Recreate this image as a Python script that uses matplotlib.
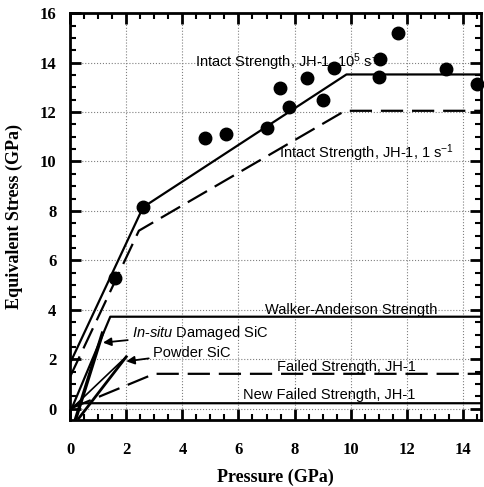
import matplotlib
matplotlib.use('Agg')
import matplotlib.pyplot as plt
from matplotlib.ticker import MultipleLocator

plt.rcParams['mathtext.fontset'] = 'custom'
plt.rcParams['mathtext.rm'] = 'Liberation Sans'
plt.rcParams['mathtext.it'] = 'Liberation Sans:italic'

#%% dados lidos do grafico
# pontos experimentais
p_exp = [1.6, 2.6, 4.8, 5.56, 7.0, 7.47, 7.8, 8.45, 9.0, 9.4, 11.0, 11.04, 11.69, 13.4, 14.5]
s_exp = [5.3, 8.16, 10.95, 11.1, 11.35, 12.97, 12.2, 13.37, 12.5, 13.8, 13.4, 14.14, 15.19, 13.74, 13.13]

# curvas de resistencia
p_intact_fast = [0, 2.6, 9.85, 14.7]
s_intact_fast = [1.85, 8.15, 13.52, 13.52]
p_intact_slow = [0, 2.45, 9.8, 14.7]
s_intact_slow = [1.3, 7.2, 12.05, 12.05]
p_walker = [0.05, 1.43, 14.7]
s_walker = [0.0, 3.72, 3.72]
p_failed = [0.0, 3.0, 14.7]
s_failed = [0.0, 1.41, 1.41]
p_newfailed = [0.0, 0.3, 14.7]
s_newfailed = [0.0, 0.22, 0.22]
p_insitu = [0.2, 1.15]
s_insitu = [-0.4, 3.05]
p_powder = [0.3, 2.0]
s_powder = [-0.4, 2.1]
p_powder2 = [0.05, 1.95]
s_powder2 = [0.0, 2.05]

#%% figura
fig = plt.figure(figsize=(4.84, 4.87), dpi=100)
ax = fig.add_axes([0.145, 0.138, 0.849, 0.835])

ax.plot(p_intact_fast, s_intact_fast, 'k-', lw=1.6)
ax.plot(p_intact_slow, s_intact_slow, 'k-', lw=1.6, dashes=(10, 4))
ax.plot(p_walker, s_walker, 'k-', lw=1.6)
ax.plot(p_failed, s_failed, 'k-', lw=1.6, dashes=(10, 4))
ax.plot(p_newfailed, s_newfailed, 'k-', lw=1.6)
ax.plot(p_insitu, s_insitu, 'k-', lw=2.5)
ax.plot(p_powder, s_powder, 'k-', lw=2.0)
ax.plot(p_powder2, s_powder2, 'k-', lw=1.2)
ax.plot(p_exp, s_exp, 'ko', ms=9, clip_on=False)

# textos
fs = 10.5
fam = 'Liberation Sans'
ax.text(4.45, 14.0, r'Intact Strength, JH-1, 10$^5$ s$^{-1}$', fontsize=fs, family=fam, va='center')
ax.text(7.45, 10.35, r'Intact Strength, JH-1, 1 s$^{-1}$', fontsize=fs, family=fam, va='center')
ax.text(6.95, 4.0, 'Walker-Anderson Strength', fontsize=fs, family=fam, va='center')
ax.text(7.37, 1.7, 'Failed Strength, JH-1', fontsize=fs, family=fam, va='center')
ax.text(6.17, 0.57, 'New Failed Strength, JH-1', fontsize=fs, family=fam, va='center')
ax.annotate(r'$\it{In}$-$\it{situ}$ Damaged SiC', xy=(1.07, 2.66), xytext=(2.2, 3.07),
            fontsize=fs, family=fam, va='center',
            arrowprops=dict(arrowstyle='-|>', color='k', lw=1.3, mutation_scale=12, shrinkA=1))
ax.annotate('Powder SiC', xy=(1.9, 1.9), xytext=(2.95, 2.26),
            fontsize=fs, family=fam, va='center',
            arrowprops=dict(arrowstyle='-|>', color='k', lw=1.3, mutation_scale=12, shrinkA=1))

ax.set_xlim(0, 14.65)
ax.set_ylim(-0.45, 16)
ax.xaxis.set_major_locator(MultipleLocator(2))
ax.xaxis.set_minor_locator(MultipleLocator(0.5))
ax.yaxis.set_major_locator(MultipleLocator(2))
ax.yaxis.set_minor_locator(MultipleLocator(0.5))
ax.tick_params(which='major', direction='in', length=8, width=2, top=True, right=True, pad=10)
ax.tick_params(axis='x', which='major', pad=16)
ax.tick_params(which='minor', direction='in', length=4, width=1.5, top=True, right=True)
for sp in ax.spines.values():
    sp.set_linewidth(2)
ax.grid(which='major', ls=':', color='gray', lw=0.8)

for lab in ax.get_xticklabels() + ax.get_yticklabels():
    lab.set_family('Liberation Serif')
    lab.set_fontweight('bold')
    lab.set_fontsize(12)

ax.set_xlabel('Pressure (GPa)', family='Liberation Serif', fontweight='bold', fontsize=13, labelpad=8)
ax.set_ylabel('Equivalent Stress (GPa)', family='Liberation Serif', fontweight='bold', fontsize=13, labelpad=12)

fig.savefig('out.png', dpi=100)
